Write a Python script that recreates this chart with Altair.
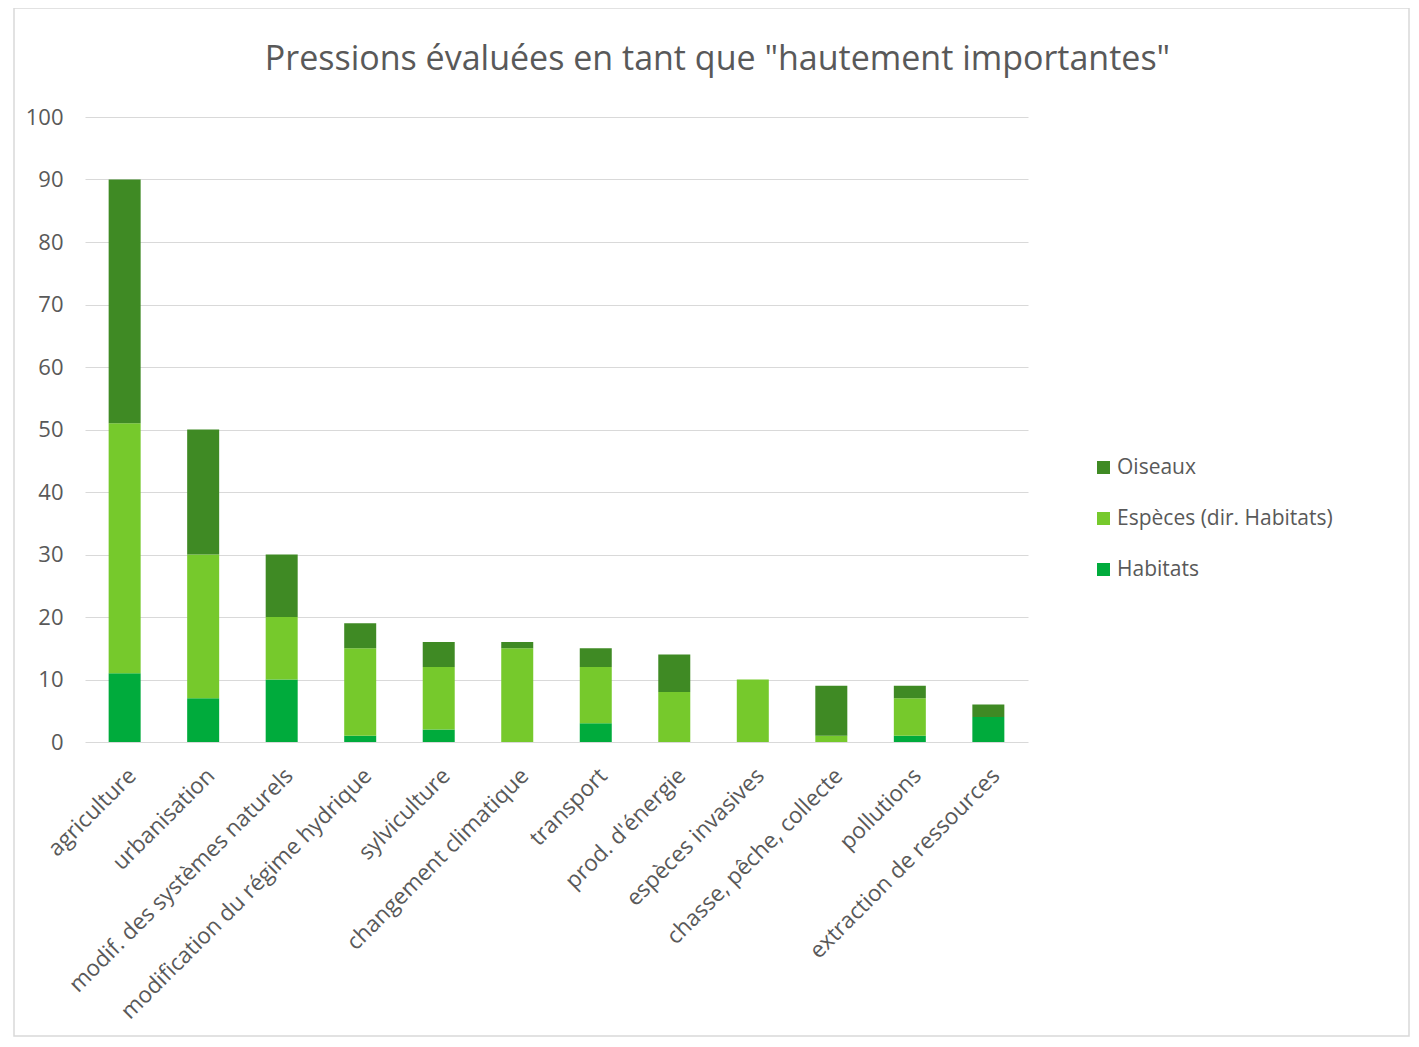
import altair as alt
import pandas as pd

categories = ["agriculture", "urbanisation", "modif. des systèmes naturels",
              "modification du régime hydrique", "sylviculture", "changement climatique",
              "transport", "prod. d'énergie", "espèces invasives", "chasse, pêche, collecte",
              "pollutions", "extraction de ressources"]
habitats = [11, 7, 10, 1, 2, 0, 3, 0, 0, 0, 1, 4]
especes = [40, 23, 10, 14, 10, 15, 9, 8, 10, 1, 6, 0]
oiseaux = [39, 20, 10, 4, 4, 1, 3, 6, 0, 8, 2, 2]
series = ["Oiseaux", "Espèces (dir. Habitats)", "Habitats"]
colors = ["#3f8a24", "#76c92c", "#00ab3c"]

rows = []
for i, c in enumerate(categories):
    for s, vals, o in [("Habitats", habitats, 0), ("Espèces (dir. Habitats)", especes, 1), ("Oiseaux", oiseaux, 2)]:
        rows.append({"cat": c, "serie": s, "val": vals[i], "ord": o})
df = pd.DataFrame(rows)

W, H = 943, 625
font = "Open Sans"

bars = alt.Chart(df).mark_bar(size=32).encode(
    x=alt.X("cat:N", sort=categories, title=None,
            scale=alt.Scale(paddingInner=0.59, paddingOuter=0.3),
            axis=alt.Axis(labelAngle=-45, labelAlign="right", labelBaseline="top",
                          labelFontSize=22.5, labelColor="#595959", labelFont=font,
                          ticks=False, domain=False, labelPadding=22, labelLimit=500)),
    y=alt.Y("val:Q", title=None, stack="zero",
            scale=alt.Scale(domain=[0, 100]),
            axis=alt.Axis(values=list(range(0, 101, 10)), labelFontSize=22, labelColor="#595959",
                          labelFont=font, ticks=False, domain=False, labelPadding=22,
                          gridColor="#d9d9d9", gridWidth=1.2)),
    color=alt.Color("serie:N", scale=alt.Scale(domain=series, range=colors),
                    legend=alt.Legend(title=None, orient="none", legendX=1008, legendY=340,
                                      labelFontSize=21, labelColor="#595959", labelFont=font,
                                      symbolType="square", symbolSize=170, rowPadding=29,
                                      symbolStrokeWidth=0, labelOffset=3, labelLimit=500)),
    order=alt.Order("ord:Q"),
)

border = alt.Chart(pd.DataFrame({"a": [0]})).mark_rect(fill=None, stroke="#d9d9d9", strokeWidth=1.5).encode(
    x=alt.value(-71), x2=alt.value(1324), y=alt.value(-109), y2=alt.value(919)
)

chart = alt.layer(border, bars).properties(
    width=W, height=H,
    background="white",
    title=alt.TitleParams("Pressions évaluées en tant que \"hautement importantes\"",
                          fontSize=34, font=font, fontWeight="normal", color="#595959",
                          anchor="middle", dx=161, offset=-70),
    autosize=alt.AutoSizeParams(type="none"),
    padding={"left": 77, "top": 109, "right": 382, "bottom": 295},
).configure_view(stroke=None)

chart.save("out.html", embed_options={"renderer": "svg", "actions": False})
